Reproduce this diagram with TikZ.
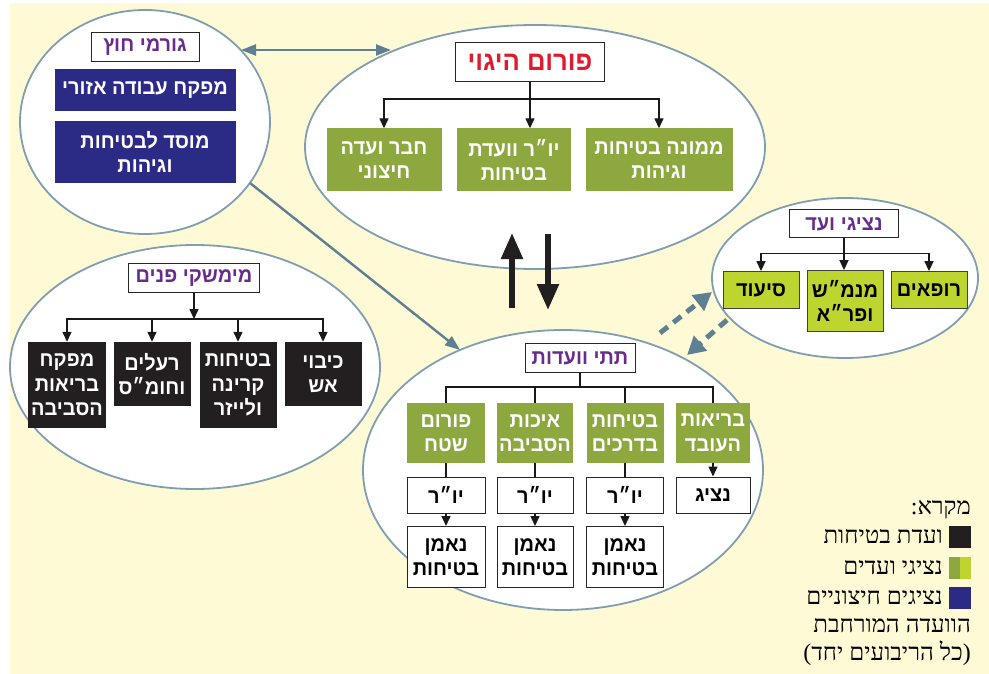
\documentclass[tikz,border=0pt]{standalone}
\usepackage{fontspec}
\usepackage{tikz}
\usetikzlibrary{shapes.geometric, arrows.meta}
\TeXXeTstate=1
\newfontfamily\hebfont[Script=Hebrew, FakeStretch=0.95]{Liberation Sans}
\newfontfamily\hebserif[Script=Hebrew]{Liberation Serif}
\definecolor{paperColor}{RGB}{255,250,214}
\definecolor{ovalColor}{RGB}{128,158,178}
\definecolor{linkBlue}{RGB}{94,128,146}
\definecolor{oliveGreen}{RGB}{141,168,62}
\definecolor{limeGreen}{RGB}{190,213,48}
\definecolor{navyBlue}{RGB}{43,42,132}
\definecolor{boxBlack}{RGB}{35,31,32}
\definecolor{headPurple}{RGB}{104,45,140}
\definecolor{steerRed}{RGB}{222,28,48}
\tikzstyle{chart} = [x = 1pt, y = -1pt]
\tikzstyle{ovalStyle} = [ellipse, draw = ovalColor, fill = white, line width = 1.8pt, inner sep = 0pt]
\tikzstyle{boxStyle} = [rectangle, inner sep = 0pt, align = center, font = \hebfont\bfseries\fontsize{21}{24.5}\selectfont]
\tikzstyle{headBox} = [boxStyle, draw = black!85, fill = white, line width = 1pt, text = headPurple]
\tikzstyle{oliveBox} = [boxStyle, fill = oliveGreen, text = white]
\tikzstyle{limeBox} = [boxStyle, fill = limeGreen, draw = black!75, line width = .8pt, text = black]
\tikzstyle{navyBox} = [boxStyle, fill = navyBlue, text = white]
\tikzstyle{blackBox} = [boxStyle, fill = boxBlack, text = white]
\tikzstyle{plainBox} = [boxStyle, draw = black!85, fill = white, line width = 1pt, text = black]
\tikzstyle{treeLine} = [draw = black!90, line width = 1.4pt]
\tikzstyle{treeArrow} = [treeLine, -{Triangle[width = 9pt, length = 10pt]}]
\tikzstyle{linkArrow} = [draw = linkBlue, line width = 2.4pt, -{Triangle[width = 11pt, length = 15pt]}]
\tikzstyle{flowArrow} = [draw = boxBlack, line width = 5.5pt, -{Triangle[width = 21pt, length = 26pt]}]
\tikzstyle{dashArrow} = [draw = linkBlue, line width = 5pt, dash pattern = on 10pt off 7pt, -{Triangle[width = 19pt, length = 18pt]}]
\tikzstyle{legendText} = [anchor = east, inner sep = 0pt, font = \hebserif\fontsize{24}{26}\selectfont]
\tikzstyle{legendSquare} = [rectangle, inner sep = 0pt, minimum width = 22pt, minimum height = 22pt]
\newcommand{\heb}[1]{\beginR #1\endR}
\newcommand{\orgBox}[6]{\node [#1, minimum width = #4pt, minimum height = #5pt] (#2) at (#3) {#6};}
\newcommand{\groupOval}[4]{\node [ovalStyle, minimum width = #3pt, minimum height = #4pt] (#1) at (#2) {};}
\begin{document}
\begin{tikzpicture}[chart]
  \useasboundingbox (0, 0) rectangle (989, 674);
  \fill [paperColor] (10, 3) rectangle (989, 674);

  % external bodies
  \groupOval{outerOval}{145, 122}{250}{224}
  \orgBox{headBox}{outerHead}{145, 47}{108}{29}{\heb{גורמי חוץ}}
  \orgBox{navyBox}{labourInspector}{145, 90}{181}{42}{\heb{מפקח עבודה אזורי}}
  \orgBox{navyBox}{safetyInstitute}{145, 152}{181}{62}{\heb{מוסד לבטיחות}\\\heb{וגיהות}}

  % steering forum
  \groupOval{steerOval}{535, 147}{460}{244}
  \orgBox{headBox, text = steerRed, font = \hebfont\bfseries\fontsize{27}{30}\selectfont}{steerHead}{530, 62}{149}{39}{\heb{פורום היגוי}}
  \orgBox{oliveBox}{outsideMember}{384, 160}{115}{63}{\heb{חבר ועדה}\\\heb{חיצוני}}
  \orgBox{oliveBox}{committeeChair}{514, 160}{114}{63}{\heb{יו״ר וועדת}\\\heb{בטיחות}}
  \orgBox{oliveBox}{safetyOfficer}{659, 160}{147}{63}{\heb{ממונה בטיחות}\\\heb{וגיהות}}
  \draw [treeArrow] (steerHead.south) -- ++(0, 17) -| (outsideMember.north);
  \draw [treeArrow] (steerHead.south) -- (steerHead.south |- committeeChair.north);
  \draw [treeArrow] (steerHead.south) -- ++(0, 17) -| (safetyOfficer.north);

  % internal interfaces
  \groupOval{innerOval}{195, 367}{370}{244}
  \orgBox{headBox}{innerHead}{194, 278}{131}{29}{\heb{מימשקי פנים}}
  \orgBox{blackBox}{envInspector}{67, 385}{78}{86}{\heb{מפקח}\\\heb{בריאות}\\\heb{הסביבה}}
  \orgBox{blackBox}{toxicBox}{152, 374}{77}{64}{\heb{רעלים}\\\heb{וחומ״ס}}
  \orgBox{blackBox}{radiationBox}{238, 385}{77}{86}{\heb{בטיחות}\\\heb{קרינה}\\\heb{ולייזר}}
  \orgBox{blackBox}{fireBox}{323, 374}{77}{64}{\heb{כיבוי}\\\heb{אש}}
  \draw [treeArrow] (innerHead.south) -- ++(0, 26) coordinate (innerFork);
  \foreach \child in {envInspector, toxicBox, radiationBox, fireBox}
    \draw [treeArrow] (innerFork) -| (\child.north);

  % staff representatives
  \groupOval{staffOval}{845, 278}{266}{160}
  \orgBox{headBox}{staffHead}{844, 224}{109}{28}{\heb{נציגי ועד}}
  \orgBox{limeBox}{nursingBox}{761, 290}{76}{37}{\heb{סיעוד}}
  \orgBox{limeBox}{managersBox}{845, 301}{76}{61}{\heb{מנמ״ש}\\\heb{ופר״א}}
  \orgBox{limeBox}{doctorsBox}{929, 290}{76}{37}{\heb{רופאים}}
  \draw [treeArrow] (staffHead.south) -- ++(0, 15) -| (nursingBox.north);
  \draw [treeArrow] (staffHead.south) -- (staffHead.south |- managersBox.north);
  \draw [treeArrow] (staffHead.south) -- ++(0, 15) -| (doctorsBox.north);

  % sub committees
  \groupOval{subOval}{563, 470}{400}{280}
  \orgBox{headBox}{subHead}{580, 358}{110}{29}{\heb{תתי וועדות}}
  \orgBox{oliveBox}{fieldForum}{446, 433}{78}{60}{\heb{פורום}\\\heb{שטח}}
  \orgBox{oliveBox}{envQuality}{535, 433}{76}{60}{\heb{איכות}\\\heb{הסביבה}}
  \orgBox{oliveBox}{roadSafety}{625, 433}{77}{60}{\heb{בטיחות}\\\heb{בדרכים}}
  \orgBox{oliveBox}{workerHealth}{713, 433}{74}{60}{\heb{בריאות}\\\heb{העובד}}
  \orgBox{plainBox}{fieldChair}{446, 495}{78}{36}{\heb{יו״ר}}
  \orgBox{plainBox}{envChair}{535, 495}{76}{36}{\heb{יו״ר}}
  \orgBox{plainBox}{roadChair}{625, 495}{77}{36}{\heb{יו״ר}}
  \orgBox{plainBox}{workerRep}{713, 495}{74}{36}{\heb{נציג}}
  \orgBox{plainBox}{fieldTrustee}{446, 557}{78}{61}{\heb{נאמן}\\\heb{בטיחות}}
  \orgBox{plainBox}{envTrustee}{535, 557}{76}{61}{\heb{נאמן}\\\heb{בטיחות}}
  \orgBox{plainBox}{roadTrustee}{625, 557}{77}{61}{\heb{נאמן}\\\heb{בטיחות}}
  \foreach \child in {fieldForum, envQuality, roadSafety, workerHealth}
    \draw [treeLine] (subHead.south) -- ++(0, 14) -| (\child.north);
  \foreach \group/\chair/\trustee in {fieldForum/fieldChair/fieldTrustee, envQuality/envChair/envTrustee, roadSafety/roadChair/roadTrustee} {
    \draw [treeLine] (\group.south) -- (\chair.north);
    \draw [treeArrow] (\chair.south) -- (\trustee.north);
  }
  \draw [treeArrow] (workerHealth.south) -- (workerRep.north);

  % links between the ovals
  \coordinate (outerLinkEnd) at (241, 50);
  \coordinate (steerLinkEnd) at (391, 50);
  \draw [linkArrow, {Triangle[width = 11pt, length = 15pt]}-{Triangle[width = 11pt, length = 15pt]}] (outerLinkEnd) -- (steerLinkEnd);
  \coordinate (outerLinkFoot) at (250, 183);
  \coordinate (subLinkTip) at (460, 350);
  \draw [linkArrow] (outerLinkFoot) -- (subLinkTip);
  \coordinate (upFoot) at (512, 308);
  \coordinate (upTip) at (512, 233);
  \coordinate (downFoot) at (548, 234);
  \coordinate (downTip) at (548, 310);
  \draw [flowArrow] (upFoot) -- (upTip);
  \draw [flowArrow] (downFoot) -- (downTip);
  \coordinate (subDashFoot) at (660, 333);
  \coordinate (staffDashTip) at (712, 292);
  \coordinate (staffDashFoot) at (727, 320);
  \coordinate (subDashTip) at (687, 355);
  \draw [dashArrow] (subDashFoot) -- (staffDashTip);
  \draw [dashArrow] (staffDashFoot) -- (subDashTip);

  % legend
  \node [legendText] (keyTitle) at (971, 510) {\heb{מקרא:}};
  \node [legendSquare, fill = boxBlack] (keyBlack) at (960, 537) {};
  \node [legendText] (keyBlackText) at (943, 537) {\heb{ועדת בטיחות}};
  \node [legendSquare, fill = limeGreen] (keyGreen) at (960, 568) {};
  \fill [oliveGreen] (keyGreen.north west) rectangle (keyGreen.south);
  \node [legendText] (keyGreenText) at (943, 568) {\heb{נציגי ועדים}};
  \node [legendSquare, fill = navyBlue] (keyNavy) at (960, 598) {};
  \node [legendText] (keyNavyText) at (943, 598) {\heb{נציגים חיצוניים}};
  \node [legendText] (keyWide) at (971, 626) {\heb{הוועדה המורחבת}};
  \node [legendText] (keyWideNote) at (971, 653) {\heb{(כל הריבועים יחד)}};
\end{tikzpicture}
\end{document}
